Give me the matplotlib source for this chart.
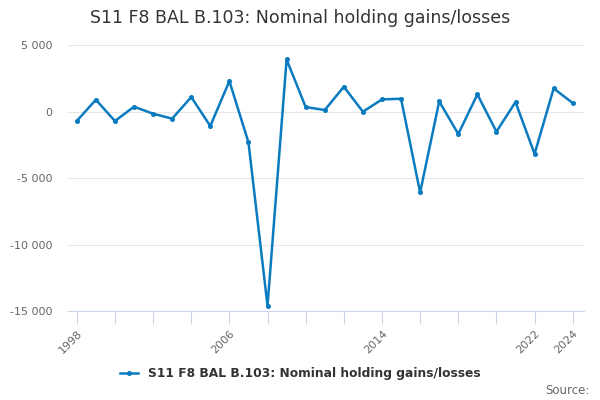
import matplotlib
matplotlib.use('Agg')
import matplotlib.pyplot as plt
from matplotlib.ticker import FuncFormatter

# values
years = list(range(1998, 2025))
values = [-700, 900, -700, 375, -150, -525, 1100, -1075, 2300, -2300,
          -14600, 3925, 350, 125, 1875, 0, 925, 975, -6075, 775,
          -1675, 1300, -1500, 725, -3175, 1750, 650]
tick_years = list(range(1998, 2025, 2))
label_years = [1998, 2006, 2014, 2022, 2024]
yticks = [5000, 0, -5000, -10000, -15000]

title = 'S11 F8 BAL B.103: Nominal holding gains/losses'
line_color = '#0b7bc0'

fig = plt.figure(figsize=(6, 4), dpi=100)
ax = fig.add_axes([0.113, 0.222, 0.86, 0.665])

ax.plot(years, values, color=line_color, linewidth=1.8, marker='o',
        markersize=2.6, label=title)

ax.set_xlim(1997.53, 2024.58)
ax.set_ylim(-15000, 5000)
ax.set_yticks(yticks)
ax.yaxis.set_major_formatter(FuncFormatter(lambda v, p: f"{int(v):,}".replace(',', ' ')))
ax.grid(axis='y', color='#e6e6e6', linewidth=0.8)
ax.set_axisbelow(True)

ax.set_xticks(tick_years)
ax.set_xticklabels([str(y) if y in label_years else '' for y in tick_years],
                   rotation=45, ha='right', rotation_mode='anchor')

for side in ['top', 'right', 'left']:
    ax.spines[side].set_visible(False)
ax.spines['bottom'].set_color('#ccd6eb')
ax.tick_params(axis='x', colors='#ccd6eb', length=9, width=0.8, labelcolor='#666666',
               labelsize=8)
ax.tick_params(axis='y', length=0, labelcolor='#666666', labelsize=8, pad=11)

fig.text(0.5, 0.955, title, ha='center', va='center', fontsize=12.5, color='#333333')

leg = fig.legend(loc='center', bbox_to_anchor=(0.5, 0.065), frameon=False,
                 handlelength=1.5, prop={'weight': 'bold', 'size': 8.8})
for t in leg.get_texts():
    t.set_color('#333333')

fig.text(0.982, 0.025, 'Source:', ha='right', va='center', fontsize=8.5, color='#666666')

plt.savefig('out.png', dpi=100)
